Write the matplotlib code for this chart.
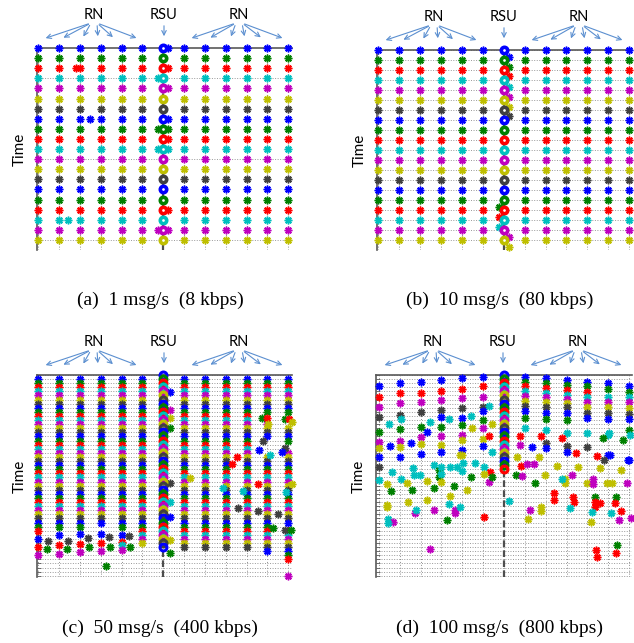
import matplotlib
matplotlib.use('Agg')
import matplotlib.pyplot as plt

# 13 nodes along the road: 12 relay nodes (RN) and the road-side unit (RSU) in the middle
nodes = list(range(13))
rsu = 6

# MATLAB-style colour order, one colour per message
colours = [(0, 0, 1), (0, 0.5, 0), (1, 0, 0), (0, 0.75, 0.75),
           (0.75, 0, 0.75), (0.75, 0.75, 0), (0.25, 0.25, 0.25)]

# (a) 1 msg/s: every node delivers in each of the 20 time slots
slots_a = 20
# markers pushed off their column: (x, time, colour)
extra_a = [(1.8, 2, 2), (2.5, 7, 0), (1.45, 17, 3),
           (6.25, 0, 0), (6.25, 2, 2), (5.75, 3, 3), (6.25, 4, 4), (6.25, 7, 0),
           (5.75, 8, 1), (6.25, 8, 1), (6.25, 9, 2), (5.75, 10, 3), (6.25, 10, 3),
           (6.25, 16, 2), (5.75, 18, 4), (6.25, 18, 4)]

# (b) 10 msg/s
slots_b = 20
extra_b = [(6.25, 0.7, 0), (6.25, 1.7, 1), (6.25, 2.6, 2), (6.25, 3.7, 3),
           (6.25, 4.7, 4), (6.25, 5.7, 5), (6.25, 6.6, 6),
           (5.75, 15.7, 1), (5.75, 16.7, 2), (5.75, 17.7, 3),
           (6.25, 18.7, 4), (6.25, 19.7, 5)]

# (c) 50 msg/s: runs of consecutive slots (node, first time, last time, first colour)
runs_c = [(0, 1, 38, 0), (1, 1, 37, 0), (2, 1, 37, 0), (3, 1, 36, 0), (4, 1, 37, 0),
          (5, 1, 41, 0), (6, 0, 42, 0), (7, 1, 42, 0), (8, 1, 42, 0), (9, 1, 42, 0),
          (10, 1, 42, 0), (11, 1, 9, 0), (11, 12, 15, 4), (11, 20, 43, 5),
          (12, 1, 9, 0), (12, 13, 16, 5), (12, 19, 36, 4), (12, 38, 45, 2)]
extra_c = [(0, 40, 0), (0, 42, 2), (0, 44, 4), (0.48, 40.6, 6), (0.43, 42.5, 1),
           (1, 39.1, 0), (1, 41.5, 2), (1, 43.7, 4), (1.45, 40.5, 6), (1.4, 42.5, 1),
           (2, 38.8, 0), (2, 41.2, 2), (2, 43.3, 4), (2.37, 39.8, 6), (2.42, 42.1, 1),
           (3, 38.8, 0), (3, 40.9, 2), (3, 43.0, 4), (3.4, 39.5, 6), (3.45, 42.0, 1), (3.25, 46.6, 1),
           (4, 39.0, 0), (4, 40.7, 2), (4, 41.5, 3), (4, 42.6, 4), (4.35, 39.3, 6), (4.4, 41.9, 1),
           (6.3, 4.1, 0), (6.3, 8.5, 4), (6.3, 10.5, 5), (6.3, 13.0, 1), (6.3, 26.3, 6),
           (6.3, 30.9, 3), (6.3, 34.6, 0), (6.3, 40.2, 5), (6.3, 43.4, 1),
           (7.3, 25.2, 5), (9.55, 20.0, 2), (9.3, 21.7, 2), (8.85, 27.6, 3), (9.6, 32.4, 6),
           (10.53, 26.6, 2), (9.85, 28.2, 3), (10.53, 33.2, 6),
           (10.75, 10.6, 1), (11.0, 10.6, 2), (11.05, 12.0, 5), (10.8, 16.2, 6),
           (10.6, 18.3, 0), (11.1, 19.6, 3), (11.5, 34.0, 6), (11.25, 37.4, 1),
           (11.85, 10.8, 1), (12.05, 10.8, 2), (12.2, 11.4, 5), (11.85, 17.9, 6),
           (11.7, 18.9, 0), (12.2, 26.7, 5), (11.9, 28.5, 3), (11.85, 37.8, 6),
           (12.15, 37.8, 1), (12.0, 49.0, 4)]

# (d) 100 msg/s: delivery times per node (RSU column handled by rsu_slots_d)
rsu_slots_d = 24
rows_d = [[2.8, 5.4, 7.9, 10.3, 13.8, 16.3, 17.7, 20.0, 22.4, 25.6],
          [2.0, 4.5, 6.9, 9.8, 13.3, 16.0, 17.5, 19.9],
          [1.6, 4.3, 6.7, 9.0, 12.8, 15.2, 16.8, 19.3],
          [1.2, 3.9, 6.1, 8.5, 10.3, 12.8, 14.9, 17.0, 18.7],
          [0.8, 3.3, 5.7, 8.1, 10.6, 12.2, 14.6, 15.9, 18.3, 19.5],
          [0.4, 2.8, 5.3, 7.9, 8.7, 11.0, 13.0, 15.6, 17.3],
          [],
          [0.4, 1.6, 2.8, 3.9, 5.1, 6.3, 7.6, 8.9, 10.6, 13.0],
          [0.8, 1.9, 3.1, 4.3, 5.3, 6.5, 7.7, 9.3, 10.7, 13.4, 16.7, 17.9],
          [1.2, 2.4, 3.7, 4.9, 5.9, 6.9, 7.9, 9.2, 11.0, 14.1, 17.3, 18.7],
          [1.6, 2.8, 4.1, 5.3, 6.5, 7.9, 9.2, 10.6, 14.1, 17.5],
          [1.9, 3.3, 5.4, 6.5, 7.9, 9.3, 10.8, 14.6, 19.5],
          [2.8, 4.1, 5.4, 6.7, 8.1, 9.5, 10.8, 13.4, 20.7]]
cols_d = [[0, 2, 4, 6, 1, 4, 5, 0, 6, 3],
          [0, 2, 4, 6, 1, 4, 5, 0],
          [0, 2, 4, 6, 1, 4, 5, 0],
          [0, 2, 4, 6, 0, 1, 4, 5, 0],
          [0, 2, 4, 6, 0, 1, 4, 5, 0, 5],
          [0, 2, 4, 6, 0, 1, 4, 5, 0],
          [],
          [0, 1, 2, 3, 4, 5, 6, 0, 1, 3],
          [0, 1, 2, 3, 4, 5, 6, 0, 1, 3, 6, 0],
          [0, 1, 2, 3, 4, 5, 6, 0, 1, 3, 6, 0],
          [0, 1, 2, 3, 4, 5, 6, 0, 3, 6],
          [0, 1, 3, 4, 5, 6, 0, 3, 0],
          [0, 1, 3, 4, 5, 6, 0, 1, 0]]
extra_d = [(0.48, 12, 3), (0.53, 17.3, 0), (0.64, 23.6, 3), (0.4, 26.6, 5), (0.59, 28.3, 1),
           (0.4, 31.7, 5), (0.4, 32.3, 5), (0.43, 35.2, 3), (0.69, 35.8, 4), (0.43, 36, 3),
           (1.04, 10.8, 3), (1.52, 16.7, 0), (1.04, 25.4, 3), (1.36, 26.4, 5), (1.64, 22.6, 3),
           (1.67, 24.4, 3), (1.6, 28, 1), (1.39, 31.1, 5), (1.71, 33.7, 4), (1.8, 33, 3),
           (2.47, 11.4, 3), (2.31, 13.8, 0), (1.99, 24.4, 3), (2.31, 25.8, 5), (2.63, 27.6, 1),
           (2.31, 30.5, 5), (2.63, 32.9, 4), (2.47, 42.5, 4), (2.63, 22, 3), (2.87, 23.2, 1),
           (2.87, 24.8, 1), (3.35, 10.8, 3), (3.59, 27.2, 1), (3.4, 29.5, 5), (3.38, 31.5, 3),
           (3.65, 33, 4), (3.65, 33.7, 4), (3.27, 35.5, 1), (3.43, 22.4, 3), (3.75, 22.4, 3),
           (3.88, 32.1, 3), (3.0, 22.5, 3), (3.0, 24.2, 3), (3.0, 26, 5),
           (4.42, 10, 3), (4.47, 13, 5), (3.9, 19.5, 5), (4.03, 21.5, 3), (4.42, 24.8, 1),
           (4.23, 28, 5), (4.62, 21.5, 3), (5.02, 22.4, 3), (4.0, 23.5, 3),
           (5.26, 7.6, 3), (5.42, 12, 5), (5.26, 14.9, 2), (5.42, 18.7, 3), (5.34, 23.6, 2),
           (5.02, 24.1, 5), (5.26, 26, 4), (5.42, 24.8, 1), (5.02, 34.7, 2), (6.22, 30.7, 3),
           (6.75, 14.9, 2), (6.79, 17, 4), (7.34, 17.6, 0), (6.8, 22.2, 2), (7.1, 21.7, 4),
           (6.62, 19.9, 5), (6.57, 24.4, 1), (6.85, 24.6, 4), (7.42, 21.7, 4), (7.66, 20, 5),
           (7.5, 26.4, 1), (7.77, 14.9, 2), (7.97, 24.4, 5), (8.4, 28.7, 2), (8.4, 30.5, 2),
           (7.26, 32.9, 4), (7.77, 32.1, 5), (7.77, 33.2, 5), (7.13, 35.2, 5),
           (8.77, 15.4, 2), (8.53, 22.2, 5), (8.93, 25.4, 5), (8.93, 26.4, 5), (8.8, 25.5, 3),
           (9.25, 24.4, 4), (9.46, 19.1, 2), (9.57, 22.4, 5), (9.33, 29.7, 2), (9.36, 31.1, 2),
           (9.17, 32.5, 3), (9.99, 26.4, 5), (10.25, 25.5, 4), (10.25, 26.6, 4), (10.36, 29.7, 1),
           (10.36, 30.9, 2), (10.36, 32.1, 2), (10.6, 31.3, 2), (10.48, 19.8, 2), (10.8, 20.7, 6),
           (10.73, 15.4, 1), (11.06, 14.2, 3), (11.08, 19.5, 0), (10.6, 22.8, 5), (10.92, 26.4, 5),
           (11.2, 26.4, 5), (11.37, 29.7, 1), (11.32, 31.3, 2), (11.6, 33.1, 2), (11.13, 33.7, 3),
           (11.54, 35.4, 4), (10.16, 35.8, 5), (10.2, 33.5, 3), (11.4, 41.5, 1), (10.41, 42.7, 2),
           (10.44, 44.3, 2), (11.35, 43.5, 2), (11.72, 15.9, 1), (12.04, 14.6, 3), (11.96, 20.7, 0),
           (11.6, 23.2, 5), (11.9, 26.4, 4), (12.1, 35, 4)]

captions = ['(a)  1 msg/s  (8 kbps)', '(b)  10 msg/s  (80 kbps)',
            '(c)  50 msg/s  (400 kbps)', '(d)  100 msg/s  (800 kbps)']

W, H = 634, 643
fig = plt.figure(figsize=(W / 100, H / 100), dpi=100)
ov = fig.add_axes([0, 0, 1, 1])
ov.set_xlim(0, W)
ov.set_ylim(H, 0)
ov.axis('off')

STAR = (8, 2, 0)
ARROW = '#5b8fd0'


def star(ax, x, y, c):
    ax.plot(x, y, ls='none', marker=STAR, ms=5.5, mew=1.1, color=colours[c],
            clip_on=False, zorder=3)


def ring(ax, x, y, c, ms=4.6, mew=2.6, fill='white'):
    ax.plot(x, y, ls='none', marker='o', ms=ms, mew=mew, mec=colours[c], mfc=fill,
            clip_on=False, zorder=4)


def panel(left, top, right, bottom, xlim, ylim, hgrid, ticks, caption, cap_y):
    ax = fig.add_axes([left / W, 1 - bottom / H, (right - left) / W, (bottom - top) / H])
    ax.set_xlim(*xlim)
    ax.set_ylim(*ylim)
    for x in nodes:
        ax.axvline(x, color='0.55', ls=(0, (1, 2)), lw=0.7, zorder=0)
    for y in hgrid:
        ax.axhline(y, color='0.6', ls=(0, (1, 1.6)), lw=0.7, zorder=0)
    ax.axvline(rsu, color='0.3', ls=(0, (3, 1.5)), lw=1.6, zorder=1)
    for s in ['bottom', 'right']:
        ax.spines[s].set_visible(False)
    for s in ['top', 'left']:
        ax.spines[s].set_color('0.35')
        ax.spines[s].set_linewidth(1.2)
    ax.set_xticks([])
    ax.set_yticks(ticks)
    ax.set_yticklabels([])
    ax.tick_params(axis='y', direction='in', length=3, width=0.6, color='0.35')
    ax.patch.set_alpha(0)

    # RN / RSU labels with arrows pointing down to the nodes
    ly = top - 33
    ov.text(left + 57, ly, 'RN', ha='center', va='center', fontsize=10.5, family='Lato')
    ov.text(left + 127, ly, 'RSU', ha='center', va='center', fontsize=10.5, family='Lato')
    ov.text(left + 202, ly, 'RN', ha='center', va='center', fontsize=10.5, family='Lato')
    for cx, tips in [(57, [6, 24, 45, 61, 78, 102]), (202, [152, 171, 193, 208, 226, 248])]:
        for tx in tips:
            sx = cx - 3 if tx < cx else cx + 3
            ov.annotate('', xy=(left + tx, top - 9), xytext=(left + sx, top - 25),
                        arrowprops=dict(arrowstyle='->', color=ARROW, lw=0.8, mutation_scale=8))
    ov.annotate('', xy=(left + 127, top - 9), xytext=(left + 127, top - 25),
                arrowprops=dict(arrowstyle='->', color=ARROW, lw=0.8, mutation_scale=8))
    ov.text(left - 17, (top + bottom) / 2, 'Time', rotation=90, ha='center', va='center',
            fontsize=11, family='Lato')
    ov.text(left + 123, cap_y, caption, ha='center', va='center',
            fontsize=14, family='Liberation Serif')
    return ax


# (a)
ax = panel(37, 48, 292, 250, (-0.06, 12.18), (20, 0), [3, 11, 19], [],
           captions[0], 300)
for n in nodes:
    for t in range(slots_a):
        if n == rsu:
            ring(ax, n, t, t % 7)
        else:
            star(ax, n, t, t % 7)
for x, t, c in extra_a:
    star(ax, x, t, c)

# (b)
ax = panel(377, 50, 632, 250, (-0.07, 12.14), (20, 0), list(range(21)), [],
           captions[1], 300)
for n in nodes:
    for t in range(slots_b):
        if n == rsu:
            ring(ax, n, t, t % 7)
        else:
            star(ax, n, t, t % 7)
for x, t, c in extra_b:
    star(ax, x, t, c)

# (c)
ax = panel(37, 375, 292, 577, (-0.06, 12.18), (49.3, 0), list(range(50)),
           list(range(50)), captions[2], 628)
for n, t0, t1, c0 in runs_c:
    for t in range(t0, t1 + 1):
        c = (c0 + t - t0) % 7
        if n == rsu:
            ring(ax, n, t, c, ms=5, mew=2.2, fill='none')
        else:
            star(ax, n, t, c)
for x, t, c in extra_c:
    star(ax, x, t, c)

# (d)
ax = panel(376, 375, 632, 577, (-0.14, 12.14), (49.3, 0), list(range(50)),
           list(range(50)), captions[3], 628)
for t in range(rsu_slots_d):
    ring(ax, rsu, t, t % 7, ms=5, mew=2.2, fill='none')
for n in nodes:
    for t, c in zip(rows_d[n], cols_d[n]):
        star(ax, n, t, c)
for x, t, c in extra_d:
    star(ax, x, t, c)

fig.savefig('out.png', dpi=100)
